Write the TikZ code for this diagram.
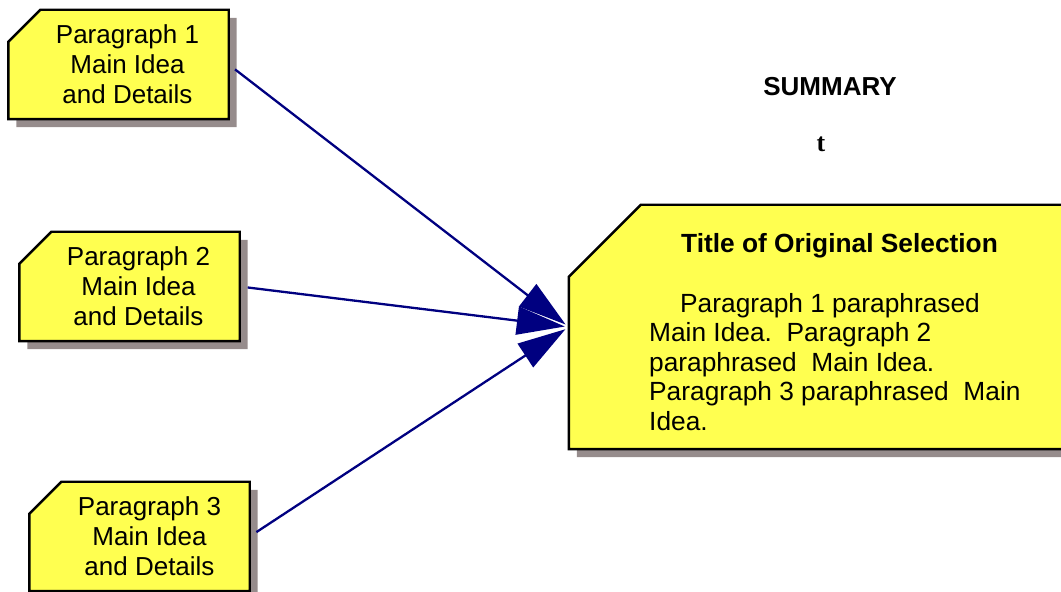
\documentclass[tikz,border=0pt]{standalone}
\usepackage{fontspec}
\setmainfont{Liberation Sans}
\newfontfamily\timesfont{Liberation Serif}
\usetikzlibrary{shadows}
\usetikzlibrary{arrows.meta}
\definecolor{boxyellow}{RGB}{255,255,80}
\definecolor{shadowgray}{RGB}{150,140,140}
\definecolor{linkblue}{RGB}{0,0,128}
\tikzset{
  cutfill/.style={draw=black, line width=2.4pt, fill=boxyellow,
    drop shadow={shadow xshift=8pt, shadow yshift=-8pt, fill=shadowgray, opacity=1}},
  parabox/.style={minimum width=220pt, minimum height=109pt},
  paratext/.style={align=center, font=\fontsize{26}{30}\selectfont},
  link/.style={draw=linkblue, line width=2.3pt, -{Triangle[length=48pt,width=28pt]},
    shorten <=8pt, shorten >=4pt}
}
% box outline with the north west corner cut off
\newcommand\cutshape[2]{%
  \path[cutfill] (#1.south west) -- ([yshift=-#2]#1.north west) -- ([xshift=#2]#1.north west)
    -- (#1.north east) -- (#1.south east) -- cycle;}
\begin{document}
\begin{tikzpicture}[x=1pt, y=1pt]
  \useasboundingbox (0,0) rectangle (1061,592);
  % the three paragraph boxes
  \node[parabox] (p1) at (118.5,527.5) {};
  \node[parabox] (p2) at (129.5,305.5) {};
  \node[parabox] (p3) at (139.5,55.5) {};
  \cutshape{p1}{32pt}
  \cutshape{p2}{32pt}
  \cutshape{p3}{32pt}
  \node[paratext] (t1) at ([xshift=9pt]p1.center) {Paragraph 1\\Main Idea\\and Details};
  \node[paratext] (t2) at ([xshift=9pt]p2.center) {Paragraph 2\\Main Idea\\and Details};
  \node[paratext] (t3) at ([xshift=10pt]p3.center) {Paragraph 3\\Main Idea\\and Details};

  % summary box
  \node[minimum width=506pt, minimum height=244pt] (summ) at (822,265) {};
  \cutshape{summ}{72pt}
  \node[font=\bfseries\fontsize{26.3}{30}\selectfont, anchor=base] (title) at (839.5,339) {Title of Original Selection};
  \node[align=left, anchor=north west, inner sep=0pt, font=\fontsize{26.3}{29.5}\selectfont] (body) at (649,299)
    {\hspace*{31pt}Paragraph 1 paraphrased\\Main Idea.\ \ Paragraph 2\\paraphrased\ \ Main Idea.\\Paragraph 3 paraphrased\ \ Main\\Idea.};

  \node[font=\bfseries\fontsize{26}{30}\selectfont] (head) at (830,505) {SUMMARY};
  \node[font=\timesfont\bfseries\fontsize{26}{30}\selectfont] (tmark) at (821,448) {t};

  \draw[link] (p1.east) -- (summ.west);
  \draw[link] (p2.east) -- (summ.west);
  \draw[link] (p3.east) -- (summ.west);
\end{tikzpicture}
\end{document}
